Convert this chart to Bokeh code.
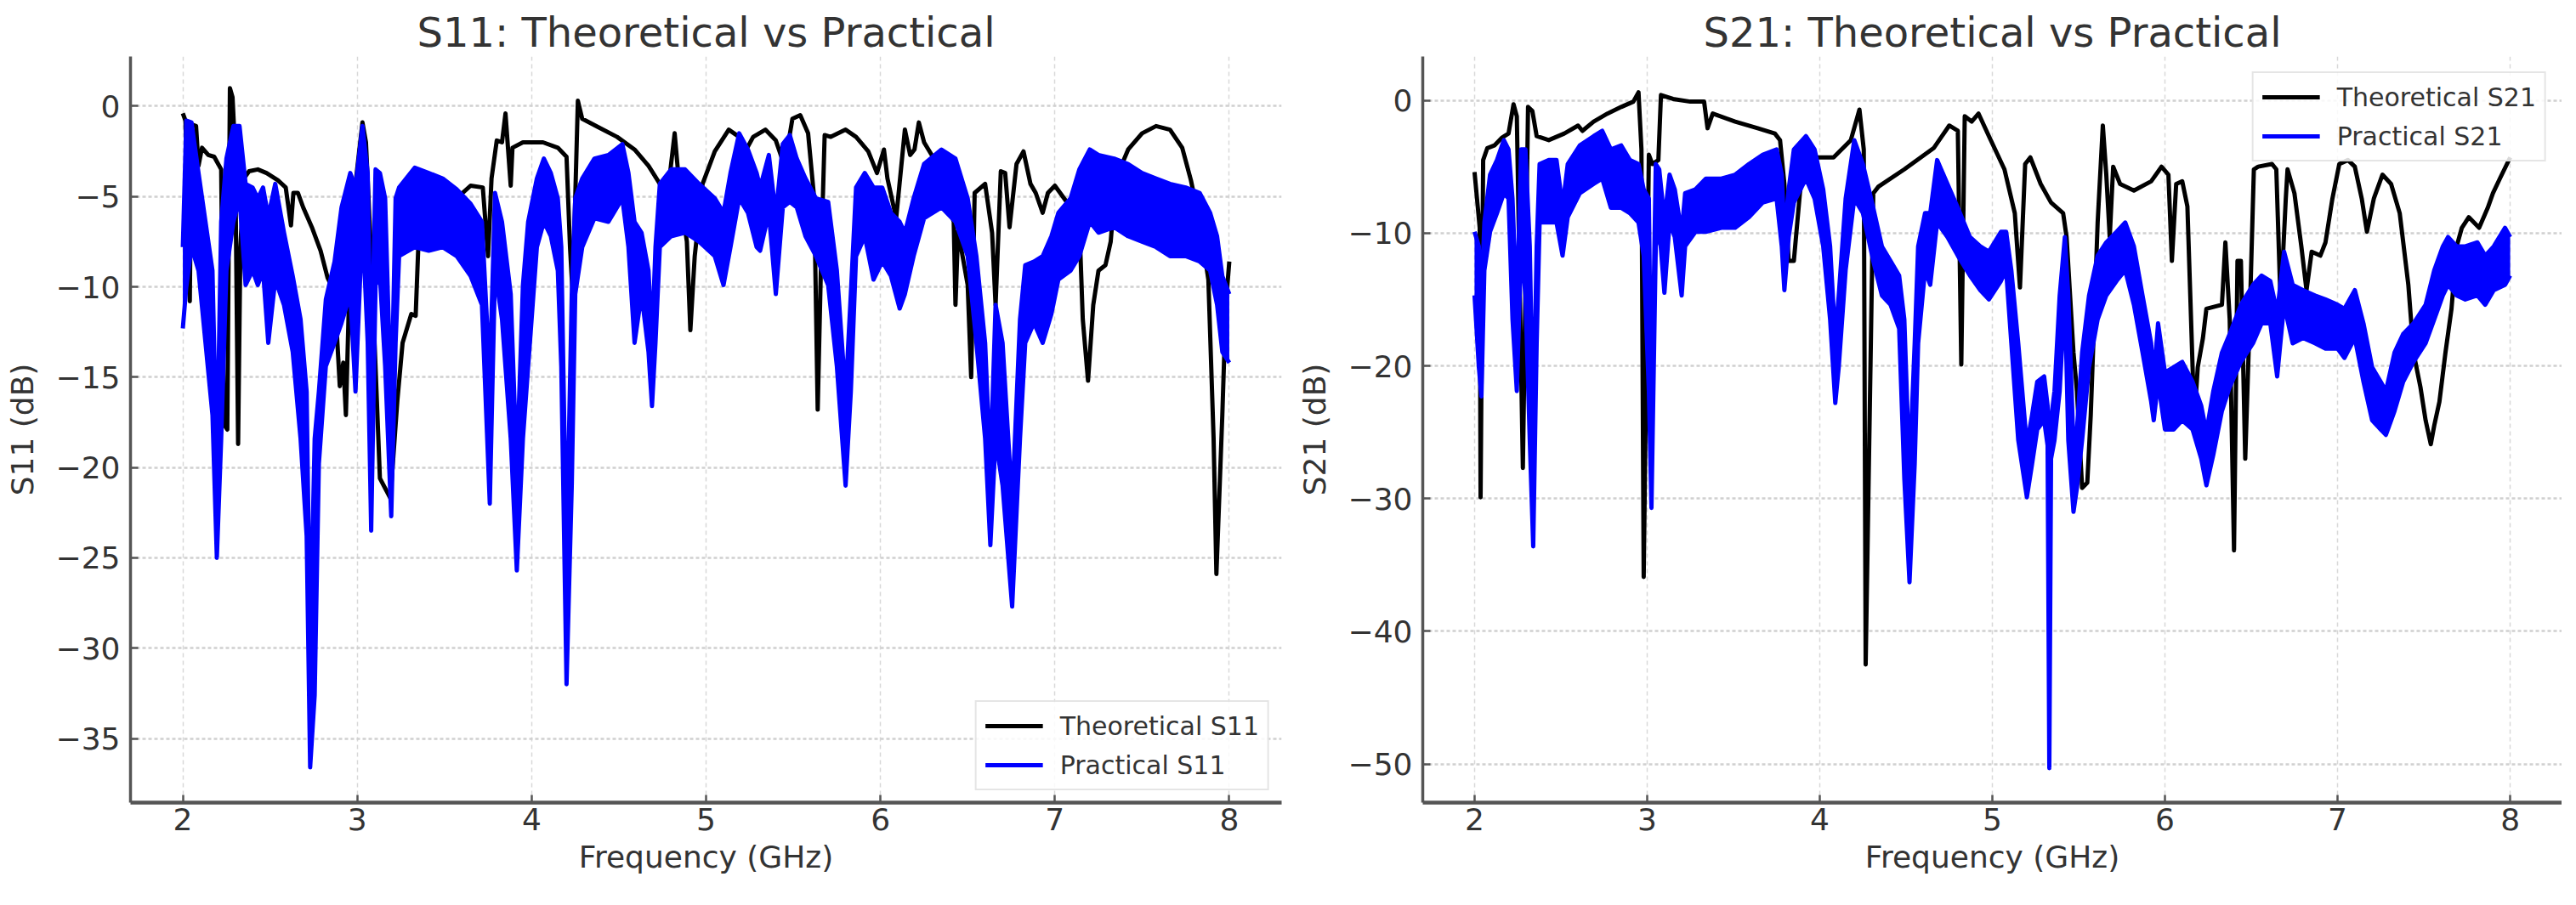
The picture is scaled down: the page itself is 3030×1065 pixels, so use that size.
from bokeh.plotting import figure
from bokeh.models import Range1d, FixedTicker, Legend, LegendItem
from bokeh.layouts import row
from bokeh.embed import file_html
from bokeh.resources import INLINE

# ---------------- data ----------------
x_ticks = [2, 3, 4, 5, 6, 7, 8]
s11_y_ticks = [0, -5, -10, -15, -20, -25, -30, -35]
s21_y_ticks = [0, -10, -20, -30, -40, -50]

s11_theo_f = [
    2.00, 2.015, 2.04, 2.05, 2.076, 2.09, 2.11, 2.146, 2.18, 2.22,
    2.235, 2.255, 2.27, 2.285, 2.30, 2.317, 2.33, 2.35, 2.38, 2.43,
    2.48, 2.545, 2.59, 2.62, 2.634, 2.66, 2.69, 2.74, 2.79, 2.83,
    2.85, 2.88, 2.90, 2.92, 2.935, 2.955, 2.99, 3.03, 3.05, 3.08,
    3.13, 3.19, 3.23, 3.26, 3.31, 3.335, 3.35, 3.39, 3.49, 3.57,
    3.65, 3.72, 3.75, 3.77, 3.80, 3.83, 3.85, 3.88, 3.89, 3.95,
    4.065, 4.15, 4.20, 4.22, 4.235, 4.265, 4.29, 4.39, 4.49, 4.59,
    4.67, 4.735, 4.79, 4.82, 4.85, 4.89, 4.91, 4.935, 4.98, 5.05,
    5.13, 5.19, 5.225, 5.27, 5.34, 5.40, 5.45, 5.495, 5.54, 5.585,
    5.62, 5.64, 5.66, 5.68, 5.715, 5.80, 5.86, 5.93, 5.98, 6.02,
    6.04, 6.09, 6.14, 6.17, 6.195, 6.22, 6.25, 6.30, 6.42, 6.43,
    6.445, 6.50, 6.52, 6.54, 6.60, 6.64, 6.66, 6.69, 6.715, 6.74,
    6.78, 6.82, 6.86, 6.89, 6.93, 6.96, 7.00, 7.09, 7.14, 7.16,
    7.19, 7.22, 7.25, 7.29, 7.32, 7.35, 7.42, 7.50, 7.58, 7.66,
    7.73, 7.78, 7.83, 7.88, 7.91, 7.926, 7.96, 7.98, 8.00,
]
s11_theo_db = [
    -0.4, -0.8, -10.8, -1.0, -1.1, -3.3, -2.3, -2.7, -2.8, -3.5,
    -17.6, -17.9, 1.0, 0.5, -2.5, -18.7, -7.8, -4.0, -3.6, -3.5,
    -3.7, -4.1, -4.5, -6.6, -4.8, -4.8, -5.6, -6.7, -8.0, -9.5,
    -9.9, -12.0, -15.5, -14.2, -17.1, -9.9, -4.3, -0.9, -2.0, -8.3,
    -20.6, -21.7, -16.3, -13.1, -11.5, -11.6, -7.8, -7.4, -6.4, -5.1,
    -4.4, -4.5, -8.3, -4.0, -1.9, -2.0, -0.4, -4.4, -2.3, -2.0,
    -2.0, -2.3, -2.8, -7.8, -10.4, 0.3, -0.7, -1.2, -1.7, -2.4,
    -3.3, -4.3, -4.0, -1.5, -4.8, -7.5, -12.4, -8.3, -4.3, -2.5,
    -1.3, -1.7, -2.5, -1.7, -1.3, -1.9, -3.3, -0.7, -0.5, -1.5,
    -5.1, -16.8, -8.3, -1.6, -1.7, -1.3, -1.7, -2.5, -3.7, -2.4,
    -4.0, -6.2, -1.3, -2.7, -2.4, -0.9, -2.0, -2.8, -6.4, -11.0,
    -6.9, -9.9, -15.0, -4.8, -4.3, -7.0, -11.0, -3.6, -3.7, -6.7,
    -3.2, -2.5, -4.3, -4.8, -5.9, -4.8, -4.4, -5.6, -6.4, -11.8,
    -15.2, -11.0, -9.1, -8.8, -7.5, -4.0, -2.4, -1.5, -1.1, -1.3,
    -2.3, -4.1, -6.4, -9.6, -18.4, -25.9, -17.1, -11.0, -8.6,
]

s11_prac_f = [
    2.00, 2.02, 2.05, 2.09, 2.13, 2.17, 2.195, 2.22, 2.25, 2.29,
    2.325, 2.36, 2.40, 2.43, 2.46, 2.49, 2.53, 2.58, 2.63, 2.675,
    2.71, 2.73, 2.756, 2.78, 2.82, 2.87, 2.91, 2.96, 2.99, 3.03,
    3.06, 3.08, 3.105, 3.13, 3.16, 3.195, 3.22, 3.24, 3.33, 3.41,
    3.49, 3.57, 3.65, 3.715, 3.76, 3.79, 3.83, 3.88, 3.915, 3.95,
    3.98, 4.03, 4.07, 4.11, 4.15, 4.17, 4.20, 4.23, 4.25, 4.29,
    4.36, 4.44, 4.52, 4.555, 4.59, 4.63, 4.67, 4.69, 4.71, 4.735,
    4.80, 4.88, 4.96, 5.05, 5.10, 5.14, 5.19, 5.24, 5.29, 5.31,
    5.36, 5.40, 5.44, 5.48, 5.52, 5.57, 5.63, 5.70, 5.75, 5.80,
    5.83, 5.86, 5.91, 5.96, 6.01, 6.06, 6.11, 6.14, 6.19, 6.25,
    6.35, 6.43, 6.50, 6.55, 6.60, 6.63, 6.66, 6.70, 6.755, 6.80,
    6.83, 6.88, 6.93, 6.98, 7.02, 7.09, 7.14, 7.20, 7.25, 7.34,
    7.42, 7.50, 7.58, 7.66, 7.75, 7.83, 7.89, 7.93, 7.96, 8.00,
]
s11_prac_hi = [
    -7.8, -0.8, -0.9, -3.7, -6.4, -9.1, -20.0, -6.4, -2.9, -1.1,
    -1.1, -4.3, -4.5, -5.1, -4.5, -6.1, -4.3, -7.0, -9.4, -11.8,
    -15.8, -30.0, -18.4, -15.8, -10.7, -8.6, -5.6, -3.7, -4.5, -1.1,
    -3.7, -15.0, -3.5, -3.7, -5.1, -17.0, -5.1, -4.5, -3.4, -3.7,
    -4.0, -4.6, -5.4, -6.4, -15.0, -4.8, -6.4, -10.4, -20.0, -9.9,
    -6.4, -4.0, -2.9, -3.7, -5.1, -7.8, -25.0, -10.4, -5.1, -4.0,
    -2.9, -2.7, -2.1, -3.7, -6.4, -7.0, -9.1, -13.0, -7.8, -4.3,
    -3.5, -3.5, -4.3, -5.1, -5.9, -3.7, -1.5, -2.4, -3.7, -4.5,
    -2.7, -6.0, -2.1, -1.6, -2.9, -4.0, -5.1, -5.3, -9.1, -16.0,
    -10.4, -4.5, -3.7, -4.5, -4.5, -5.9, -6.4, -7.0, -5.1, -3.2,
    -2.4, -2.9, -5.1, -8.3, -13.1, -20.0, -11.0, -13.1, -22.0, -11.8,
    -8.8, -8.6, -8.3, -7.2, -5.9, -5.1, -3.5, -2.4, -2.7, -2.9,
    -3.2, -3.7, -4.0, -4.3, -4.5, -4.8, -5.9, -7.2, -9.4, -10.4,
]
s11_prac_lo = [
    -12.3, -10.0, -7.8, -9.1, -13.1, -17.1, -25.0, -18.4, -9.1, -6.4,
    -5.1, -9.9, -9.1, -9.9, -9.1, -13.1, -9.6, -11.0, -13.6, -18.4,
    -23.8, -36.6, -32.6, -19.8, -14.4, -13.1, -12.0, -10.4, -15.8, -6.4,
    -13.1, -23.5, -9.9, -9.4, -14.4, -22.7, -13.1, -8.3, -7.8, -8.0,
    -7.8, -8.3, -9.4, -11.0, -22.0, -9.1, -11.8, -18.4, -25.7, -18.4,
    -14.4, -7.8, -6.4, -7.2, -9.1, -14.4, -32.0, -21.0, -10.4, -7.8,
    -6.2, -6.4, -5.1, -7.8, -13.1, -10.4, -13.6, -16.6, -13.1, -7.8,
    -7.2, -7.0, -7.5, -8.3, -9.9, -7.8, -5.1, -5.9, -7.8, -8.0,
    -5.9, -10.4, -5.6, -5.3, -5.6, -7.2, -8.3, -9.9, -14.4, -21.0,
    -15.8, -8.3, -7.2, -9.6, -8.6, -9.4, -11.2, -10.4, -8.3, -6.2,
    -5.6, -6.4, -8.3, -13.1, -18.4, -24.3, -18.4, -21.0, -27.7, -18.4,
    -13.1, -12.0, -13.1, -11.5, -9.6, -9.1, -8.3, -6.4, -7.0, -6.7,
    -7.2, -7.5, -7.8, -8.3, -8.3, -8.6, -9.1, -11.0, -13.6, -14.2,
]

s21_theo_f = [
    2.00, 2.03, 2.035, 2.05, 2.074, 2.115, 2.16, 2.197, 2.226, 2.245, 2.28,
    2.31, 2.335, 2.36, 2.43, 2.52, 2.60, 2.625, 2.69, 2.77, 2.85,
    2.92, 2.95, 2.967, 2.98, 3.01, 3.03, 3.065, 3.08, 3.15, 3.25,
    3.33, 3.35, 3.38, 3.51, 3.64, 3.74, 3.77, 3.795, 3.82, 3.85,
    3.885, 3.92, 3.97, 4.08, 4.18, 4.23, 4.255, 4.266, 4.31, 4.34,
    4.49, 4.66, 4.75, 4.80, 4.82, 4.84, 4.88, 4.92, 4.98, 5.07,
    5.13, 5.16, 5.19, 5.22, 5.28, 5.34, 5.41, 5.43, 5.47, 5.49,
    5.52, 5.55, 5.57, 5.61, 5.64, 5.66, 5.68, 5.70, 5.74, 5.82,
    5.92, 5.98, 6.02, 6.04, 6.065, 6.10, 6.13, 6.17, 6.19, 6.22,
    6.24, 6.33, 6.35, 6.375, 6.40, 6.42, 6.44, 6.465, 6.49, 6.515,
    6.54, 6.62, 6.645, 6.67, 6.70, 6.71, 6.75, 6.79, 6.82, 6.85,
    6.90, 6.93, 6.97, 7.01, 7.06, 7.10, 7.14, 7.17, 7.21, 7.26,
    7.31, 7.36, 7.41, 7.44, 7.48, 7.51, 7.54, 7.56, 7.59, 7.625,
    7.66, 7.69, 7.72, 7.76, 7.82, 7.87, 7.90, 7.94, 8.00,
]
s21_theo_db = [
    -5.4, -9.6, -29.9, -4.5, -3.6, -3.4, -2.8, -2.5, -0.3, -1.2, -27.7,
    -0.5, -0.8, -2.7, -3.0, -2.5, -1.9, -2.3, -1.6, -1.0, -0.5,
    -0.1, 0.6, -3.7, -35.9, -4.1, -4.8, -4.5, 0.4, 0.1, -0.1,
    -0.1, -2.1, -1.0, -1.6, -2.1, -2.5, -3.0, -6.3, -12.1, -12.1,
    -7.0, -3.7, -4.3, -4.3, -3.0, -0.7, -3.7, -42.5, -7.0, -6.5,
    -5.2, -3.6, -1.9, -2.3, -19.9, -1.2, -1.6, -1.0, -2.7, -5.2,
    -8.5, -14.1, -4.8, -4.3, -6.3, -7.7, -8.5, -10.3, -19.0, -21.9,
    -29.2, -28.8, -23.7, -9.2, -1.9, -5.6, -10.3, -5.0, -6.3, -6.8,
    -6.1, -5.0, -5.6, -12.1, -6.3, -6.1, -8.0, -24.1, -20.1, -17.9,
    -15.7, -15.4, -10.7, -16.5, -33.9, -12.1, -12.1, -27.0, -16.8, -5.2,
    -5.0, -4.8, -5.2, -15.4, -7.4, -5.2, -7.0, -11.0, -14.3, -11.4,
    -11.7, -10.7, -7.4, -4.8, -4.5, -5.0, -7.4, -9.9, -7.4, -5.6,
    -6.3, -8.5, -13.9, -19.0, -21.6, -24.1, -25.9, -24.5, -22.7, -19.0,
    -15.7, -11.0, -9.6, -8.8, -9.6, -8.1, -7.0, -5.9, -4.3,
]

s21_prac_f = [
    2.00, 2.025, 2.04, 2.057, 2.09, 2.13, 2.17, 2.197, 2.22, 2.245,
    2.27, 2.295, 2.32, 2.34, 2.36, 2.377, 2.43, 2.475, 2.51, 2.54,
    2.61, 2.69, 2.74, 2.79, 2.85, 2.90, 2.95, 2.98, 3.01, 3.025,
    3.05, 3.07, 3.10, 3.13, 3.16, 3.20, 3.22, 3.28, 3.34, 3.43,
    3.51, 3.59, 3.67, 3.75, 3.78, 3.795, 3.82, 3.85, 3.92, 3.97,
    4.02, 4.06, 4.09, 4.11, 4.15, 4.20, 4.25, 4.31, 4.36, 4.41,
    4.46, 4.49, 4.52, 4.55, 4.57, 4.61, 4.64, 4.68, 4.74, 4.80,
    4.87, 4.93, 4.98, 5.05, 5.08, 5.11, 5.15, 5.20, 5.23, 5.26,
    5.30, 5.32, 5.33, 5.34, 5.36, 5.39, 5.42, 5.44, 5.47, 5.49,
    5.52, 5.56, 5.61, 5.66, 5.72, 5.77, 5.82, 5.87, 5.92, 5.935,
    5.96, 6.00, 6.05, 6.10, 6.16, 6.21, 6.24, 6.28, 6.33, 6.375,
    6.44, 6.51, 6.56, 6.61, 6.65, 6.69, 6.74, 6.80, 6.87, 6.93,
    7.00, 7.04, 7.10, 7.15, 7.20, 7.25, 7.28, 7.33, 7.38, 7.44,
    7.51, 7.56, 7.61, 7.64, 7.69, 7.74, 7.81, 7.855, 7.905, 7.97,
    8.00,
]
s21_prac_hi = [
    -9.9, -11.0, -15.0, -9.2, -5.6, -4.5, -3.0, -3.7, -7.4, -16.0,
    -3.7, -3.7, -11.0, -25.0, -11.0, -4.8, -4.5, -4.5, -8.0, -4.8,
    -3.4, -2.7, -2.3, -3.7, -3.4, -4.5, -4.8, -6.7, -7.4, -25.0,
    -4.8, -5.2, -9.0, -5.6, -6.7, -10.0, -7.0, -6.7, -5.9, -5.9,
    -5.6, -4.8, -4.1, -3.7, -5.6, -10.0, -6.7, -3.7, -2.7, -3.7,
    -6.7, -11.0, -18.0, -14.7, -7.4, -3.0, -4.8, -8.1, -11.0, -12.1,
    -13.2, -16.5, -28.0, -18.3, -11.0, -8.5, -8.5, -4.5, -6.3, -8.1,
    -10.3, -11.0, -11.4, -9.9, -9.9, -12.8, -18.3, -26.0, -23.7, -21.2,
    -20.8, -23.0, -28.0, -24.0, -21.9, -14.7, -10.3, -14.7, -26.0, -24.8,
    -19.0, -14.7, -11.7, -10.7, -9.9, -9.2, -11.0, -14.7, -18.3, -21.0,
    -16.8, -20.5, -20.1, -19.7, -21.2, -23.0, -25.0, -21.9, -19.0, -17.6,
    -15.4, -13.9, -13.2, -13.6, -16.0, -11.4, -13.9, -14.3, -14.7, -15.0,
    -15.4, -15.7, -14.3, -16.8, -20.1, -21.2, -21.9, -19.0, -17.6, -16.8,
    -15.4, -12.8, -11.0, -10.3, -11.0, -11.0, -10.7, -11.7, -11.0, -9.6,
    -10.3,
]
s21_prac_lo = [
    -14.7, -20.1, -22.3, -12.8, -9.9, -8.5, -7.0, -7.4, -16.5, -21.9,
    -11.0, -14.7, -25.6, -33.6, -18.3, -9.2, -9.2, -9.2, -11.7, -8.8,
    -7.0, -6.3, -5.9, -8.1, -8.1, -8.5, -9.2, -11.7, -21.9, -30.7,
    -11.0, -9.6, -14.5, -9.2, -10.3, -14.7, -11.0, -9.9, -9.9, -9.6,
    -9.6, -8.8, -7.7, -7.4, -11.0, -14.3, -10.3, -7.7, -5.9, -7.4,
    -11.0, -16.5, -22.8, -20.1, -12.8, -7.4, -8.5, -12.1, -14.7, -15.4,
    -17.2, -28.5, -36.3, -27.4, -18.3, -12.8, -13.9, -9.2, -10.3, -11.7,
    -13.2, -14.3, -15.0, -13.6, -12.8, -18.3, -25.6, -29.9, -27.4, -24.8,
    -24.1, -26.0, -50.3, -27.0, -25.6, -21.9, -14.7, -25.6, -31.0, -29.2,
    -25.6, -20.1, -16.5, -14.7, -13.6, -12.8, -15.4, -19.0, -22.7, -24.1,
    -21.2, -24.8, -24.8, -24.1, -24.8, -27.0, -29.0, -26.7, -23.4, -21.6,
    -19.7, -18.3, -16.8, -16.8, -20.8, -15.4, -18.3, -17.9, -18.3, -18.7,
    -18.7, -19.4, -17.9, -21.2, -24.1, -24.8, -25.2, -23.4, -21.2, -19.7,
    -18.3, -16.5, -14.7, -13.9, -14.7, -15.0, -14.7, -15.4, -14.3, -13.9,
    -13.2,
]

# ---------------- styling ----------------
FONT = "DejaVu Sans"
TEXT = "#333333"
BLACK = "#000000"
BLUE = "#0000ff"


def minus(v):
    return str(v).replace("-", "\u2212")


def make_fig(title, ylabel, width, min_left, min_right, y_lo, y_hi, yticks):
    p = figure(width=width, height=1048,
               x_range=Range1d(1.7, 8.3), y_range=Range1d(y_lo, y_hi),
               output_backend="svg", toolbar_location=None,
               min_border_left=min_left, min_border_right=min_right,
               min_border_top=66, min_border_bottom=104)
    p.outline_line_color = None
    p.background_fill_color = "white"
    p.title.text = title
    p.title.text_font = FONT
    p.title.text_font_size = "48px"
    p.title.text_font_style = "normal"
    p.title.text_color = TEXT
    p.title.align = "center"
    p.title.standoff = 2

    p.xaxis.ticker = FixedTicker(ticks=x_ticks)
    p.yaxis.ticker = FixedTicker(ticks=yticks)
    p.yaxis.major_label_overrides = {v: minus(v) for v in yticks}
    p.xaxis.axis_label = "Frequency (GHz)"
    p.yaxis.axis_label = ylabel
    for ax in (p.xaxis, p.yaxis):
        ax.axis_label_text_font = FONT
        ax.axis_label_text_font_size = "36px"
        ax.axis_label_text_font_style = "normal"
        ax.axis_label_text_color = TEXT
        ax.major_label_text_font = FONT
        ax.major_label_text_font_size = "36px"
        ax.major_label_text_color = TEXT
        ax.minor_tick_line_color = None
        ax.major_tick_in = 9
        ax.major_tick_out = 0
        ax.major_tick_line_width = 2.5
    p.xaxis.major_label_standoff = 6
    p.yaxis.major_label_standoff = 12
    p.xaxis.axis_label_standoff = 8
    p.yaxis.axis_label_standoff = 16
    p.xaxis.axis_line_width = 4.5
    p.xaxis.axis_line_color = "#555555"
    p.xaxis.major_tick_line_color = "#555555"
    p.yaxis.axis_line_width = 3.5
    p.yaxis.axis_line_color = "#555555"
    p.yaxis.major_tick_line_color = "#555555"

    p.xgrid.ticker = FixedTicker(ticks=x_ticks)
    p.ygrid.ticker = FixedTicker(ticks=yticks)
    p.xgrid.grid_line_color = "#d8d8d8"
    p.xgrid.grid_line_width = 1.5
    p.xgrid.grid_line_dash = "5 4"
    p.ygrid.grid_line_color = "#d0d0d0"
    p.ygrid.grid_line_width = 2.5
    p.ygrid.grid_line_dash = "4 3"
    return p


def add_series(p, tf, tdb, pf, phi, plo, name, loc, margin):
    r_t = p.line(tf, tdb, line_color=BLACK, line_width=5, line_join="round")
    p.varea(x=pf, y1=plo, y2=phi, fill_color=BLUE, fill_alpha=1.0)
    r_hi = p.line(pf, phi, line_color=BLUE, line_width=5, line_join="round")
    p.line(pf, plo, line_color=BLUE, line_width=5, line_join="round")
    legend = Legend(items=[LegendItem(label="Theoretical " + name, renderers=[r_t]),
                           LegendItem(label="Practical " + name, renderers=[r_hi])],
                    location=loc, margin=margin)
    legend.label_text_font = FONT
    legend.label_text_font_size = "30px"
    legend.label_text_color = TEXT
    legend.glyph_width = 68
    legend.glyph_height = 36
    legend.label_standoff = 20
    legend.spacing = 10
    legend.padding = 10
    legend.border_line_color = "#cccccc"
    legend.border_line_width = 2
    legend.background_fill_alpha = 0.85
    p.add_layout(legend)


p1 = make_fig("S11: Theoretical vs Practical", "S11 (dB)", 1522, 153, 15,
              -38.55, 2.75, s11_y_ticks)
add_series(p1, s11_theo_f, s11_theo_db, s11_prac_f, s11_prac_hi, s11_prac_lo,
           "S11", "bottom_right", 14)

p2 = make_fig("S21: Theoretical vs Practical", "S21 (dB)", 1491, 146, 0,
              -52.9, 3.3, s21_y_ticks)
add_series(p2, s21_theo_f, s21_theo_db, s21_prac_f, s21_prac_hi, s21_prac_lo,
           "S21", "top_right", 18)

layout = row(p1, p2)
open("out.html", "w").write(file_html(layout, INLINE))
